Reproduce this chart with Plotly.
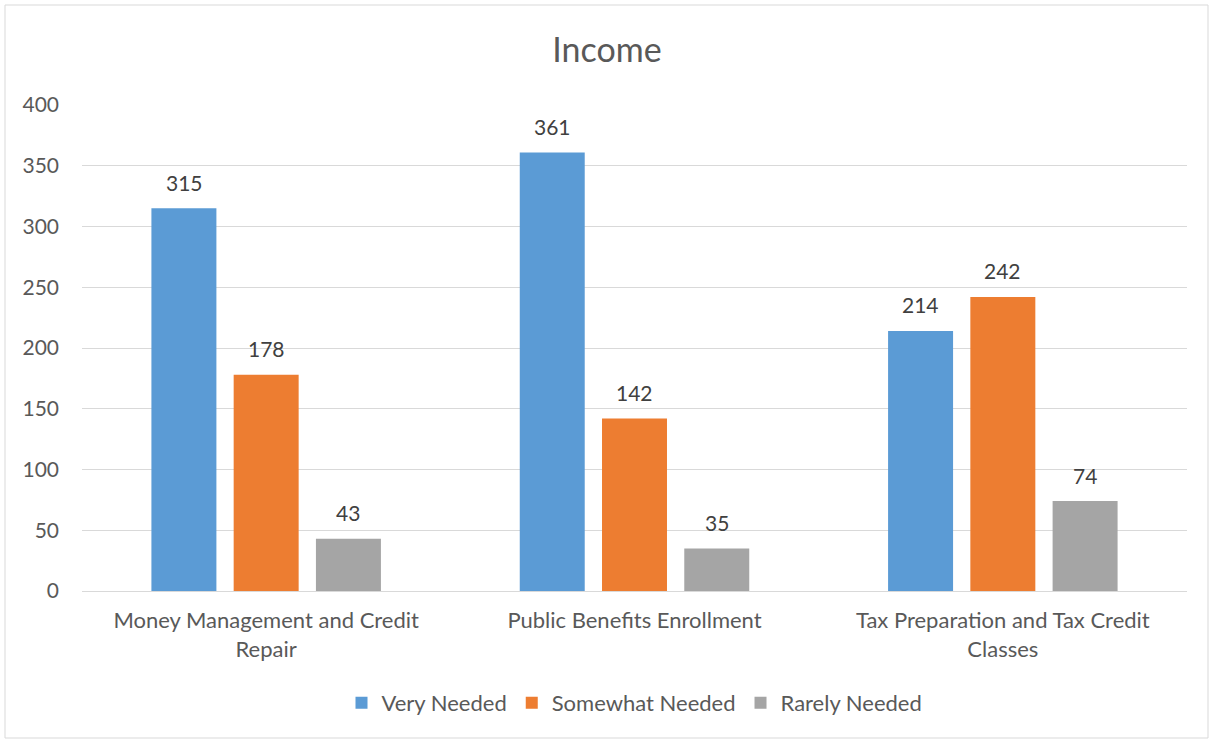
import plotly.graph_objects as go

categories = ["Money Management and Credit<br>Repair", "Public Benefits Enrollment", "Tax Preparation and Tax Credit<br>Classes"]
series_names = ["Very Needed", "Somewhat Needed", "Rarely Needed"]
very_needed = [315, 361, 214]
somewhat_needed = [178, 142, 242]
rarely_needed = [43, 35, 74]
colors = ["#5B9BD5", "#ED7D31", "#A5A5A5"]
y_ticks = [0, 50, 100, 150, 200, 250, 300, 350, 400]

FONT = "Lato"
FS = 22
W, H = 1214, 741
L, R, T, B = 82, 27, 105, 150
pw, ph = W - L - R, H - T - B

fig = go.Figure()
annotations = []
slot_px = 82
for i, (name, vals, c) in enumerate(zip(series_names, [very_needed, somewhat_needed, rarely_needed], colors)):
    fig.add_trace(go.Bar(name=name, x=categories, y=vals, marker=dict(color=c, line=dict(width=0))))
    for cat, v in zip(categories, vals):
        annotations.append(dict(x=cat, y=v, xref="x", yref="y", text=str(v), showarrow=False,
                                xshift=(i - 1) * slot_px, yshift=26, yanchor="middle",
                                font=dict(family=FONT, size=21, color="#404040")))

fig.update_layout(
    width=W, height=H,
    margin=dict(l=L, r=R, t=T, b=B),
    paper_bgcolor="white", plot_bgcolor="white",
    title=dict(text="Income", x=0.5, xanchor="center", y=1 - 50 / H, yanchor="middle",
               font=dict(family=FONT, size=34, color="#595959")),
    barmode="group", bargap=0.33, bargroupgap=0.21,
    font=dict(family=FONT, size=FS, color="#595959"),
    legend=dict(orientation="h", x=0.5, xanchor="center", y=(591 - 703) / ph, yanchor="middle",
                font=dict(family=FONT, size=FS, color="#595959"), itemwidth=30, traceorder="normal"),
    showlegend=True,
    xaxis=dict(showgrid=False, showline=False, ticks="", ticklabelstandoff=14,
               tickfont=dict(family=FONT, size=FS, color="#595959")),
    yaxis=dict(range=[0, 400], tickvals=y_ticks, showgrid=True, gridcolor="#D9D9D9", gridwidth=1,
               zeroline=True, zerolinecolor="#D9D9D9", zerolinewidth=1, showline=False, ticks="",
               ticklabelstandoff=22, tickfont=dict(family=FONT, size=21, color="#595959")),
    annotations=annotations,
    shapes=[dict(type="rect", xref="paper", yref="paper",
                 x0=(5 - L) / pw, x1=(1208 - L) / pw, y0=(H - B - 738) / ph, y1=(H - B - 5) / ph,
                 line=dict(color="#D9D9D9", width=1), fillcolor="rgba(0,0,0,0)", layer="below")],
)
fig.write_html("out.html", config={"displayModeBar": False},
               post_script="document.body.style.margin='0';document.body.style.overflow='hidden';")
